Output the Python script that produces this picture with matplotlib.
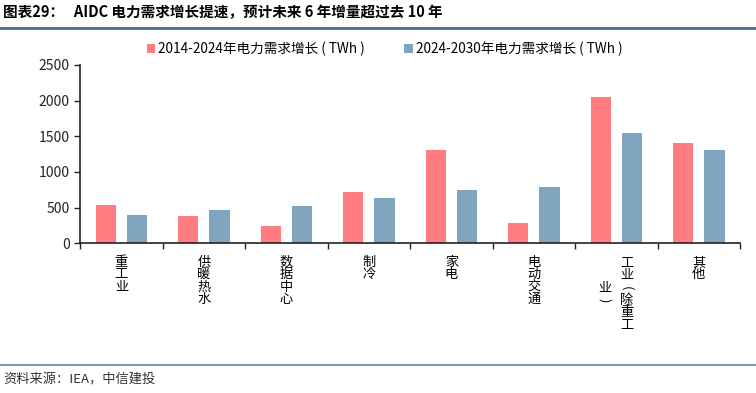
import matplotlib
matplotlib.use("Agg")
import matplotlib.pyplot as plt
import matplotlib.transforms as mtransforms
from matplotlib.lines import Line2D
import numpy as np

plt.rcParams['font.family'] = ['Noto Sans CJK SC', 'DejaVu Sans']

# data
categories = ["重工业", "供暖热水", "数据中心", "制冷", "家电", "电动交通", "工业（除重工业）", "其他"]
tick_text = ["重\n工\n业", "供\n暖\n热\n水", "数\n据\n中\n心", "制\n冷", "家\n电", "电\n动\n交\n通", "", "其\n他"]
series_names = ["2014-2024年电力需求增长 ( TWh )", "2024-2030年电力需求增长 ( TWh )"]
growth_2014_2024 = [540, 380, 240, 725, 1300, 290, 2050, 1400]
growth_2024_2030 = [400, 460, 520, 640, 740, 790, 1550, 1300]

red = "#FF7C80"
blue = "#7FA5BF"

fig = plt.figure(figsize=(7.56, 3.93), dpi=100)
ax = fig.add_axes([0.106, 0.381, 0.873, 0.454])

x = np.arange(len(categories))
w = 0.245
off = 0.19
ax.bar(x - off, growth_2014_2024, w, color=red, label=series_names[0])
ax.bar(x + off, growth_2024_2030, w, color=blue, label=series_names[1])

ax.set_xlim(-0.5, len(categories) - 0.5)
ax.set_ylim(0, 2500)
ax.set_yticks(np.arange(0, 2501, 500))
ax.tick_params(axis='y', labelsize=10, length=4, width=1, colors='#222222', direction='out')

ax.set_xticks(x)
ax.set_xticklabels(tick_text, fontsize=9.5, linespacing=0.95, va='top')
ax.tick_params(axis='x', length=0, pad=9)
ax.set_xticks(np.arange(-0.5, len(categories), 1), minor=True)
ax.tick_params(axis='x', which='minor', length=4, width=1, color='#222222')

for s in ['top', 'right']:
    ax.spines[s].set_visible(False)
for s in ['left', 'bottom']:
    ax.spines[s].set_color('#222222')
    ax.spines[s].set_linewidth(1.2)

# two-column stacked label for 工业（除重工业）, one char at a time
trans = mtransforms.blended_transform_factory(ax.transData, ax.transAxes)
step = 8.9
top = 14.6
cols = [(6 + 0.13, "工业(除重工", 0), (6 - 0.14, "业)", 2)]
for xc, chars, start in cols:
    for i, ch in enumerate(chars):
        ax.annotate(ch, xy=(xc, 0), xycoords=trans,
                    xytext=(0, -top - (start + i) * step), textcoords='offset points',
                    ha='center', va='center', fontsize=9.5,
                    rotation=-90 if ch in "()" else 0)

leg = fig.legend(loc='center left', bbox_to_anchor=(0.194, 0.875), ncol=2, frameon=False,
                 fontsize=9.8, handlelength=0.6, handleheight=0.6, handletextpad=0.25,
                 columnspacing=2.9, borderpad=0, borderaxespad=0)

# title and rules
fig.text(0.004, 0.968, "图表29：   AIDC 电力需求增长提速，预计未来 6 年增量超过去 10 年",
         fontsize=10.5, fontweight='bold', va='center', ha='left')
fig.add_artist(Line2D([0.0, 1.0], [0.93, 0.93], color='#3F6F9B', lw=2))
fig.add_artist(Line2D([0.0, 1.0], [0.072, 0.072], color='#5B87AE', lw=1.2))
fig.text(0.004, 0.033, "资料来源：IEA，中信建投", fontsize=9.5, color='#333333',
         va='center', ha='left', style='italic')

fig.savefig("out.png", dpi=100)
